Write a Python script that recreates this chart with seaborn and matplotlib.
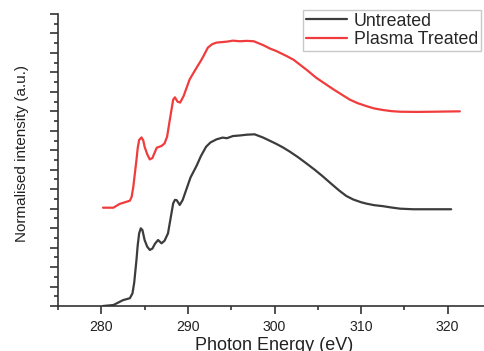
import numpy as np
import pandas as pd
import matplotlib
matplotlib.use("Agg")
import matplotlib.pyplot as plt
import seaborn as sns
from matplotlib.ticker import MultipleLocator, NullFormatter

# Data (photon energy eV, normalised intensity a.u.)
untreated_x = [280.2, 281.4, 282.5, 283.3, 283.6, 283.8, 284.06, 284.2, 284.37, 284.56,
               284.75, 285.0, 285.3, 285.6, 285.9, 286.2, 286.56, 286.95, 287.3, 287.7,
               288.0, 288.3, 288.5, 288.7, 289.06, 289.4, 289.8, 290.3, 291.0, 291.5,
               292.1, 292.6, 293.3, 294.0, 294.5, 295.2, 296.0, 296.8, 297.7, 298.7,
               299.5, 300.2, 301.0, 301.8, 302.7, 303.7, 304.7, 305.6, 306.5, 307.5,
               308.3, 309.1, 310.0, 310.6, 311.5, 312.5, 313.5, 314.5, 316.0, 318.3,
               320.4]
untreated_y = [0.0, 0.05, 0.3, 0.4, 0.65, 1.2, 2.36, 3.1, 3.73, 3.99,
               3.9, 3.39, 3.05, 2.88, 2.95, 3.2, 3.39, 3.22, 3.35, 3.73,
               4.5, 5.27, 5.45, 5.44, 5.19, 5.45, 5.96, 6.6, 7.2, 7.7,
               8.18, 8.4, 8.56, 8.65, 8.62, 8.73, 8.76, 8.8, 8.82, 8.65,
               8.48, 8.33, 8.14, 7.92, 7.65, 7.32, 6.98, 6.65, 6.3, 5.92,
               5.65, 5.47, 5.33, 5.26, 5.18, 5.13, 5.06, 5.0, 4.97, 4.97,
               4.97]

plasma_x = [280.2, 281.4, 282.1, 283.3, 283.5, 283.7, 283.9, 284.06, 284.2, 284.37,
            284.64, 284.85, 285.0, 285.3, 285.6, 285.9, 286.4, 286.95, 287.3, 287.6,
            287.85, 288.1, 288.3, 288.5, 288.8, 289.1, 289.5, 290.2, 291.0, 291.5,
            291.8, 292.3, 292.8, 293.3, 294.0, 294.5, 295.2, 296.0, 296.8, 297.6,
            298.7, 299.5, 300.2, 301.4, 302.2, 302.9, 303.8, 304.8, 305.8, 306.8,
            307.8, 308.7, 309.6, 310.6, 311.5, 312.5, 313.5, 314.5, 316.4, 318.3,
            321.4]
plasma_y = [5.05, 5.05, 5.24, 5.41, 5.6, 6.13, 6.9, 7.5, 8.1, 8.53,
            8.66, 8.5, 8.18, 7.8, 7.53, 7.6, 8.13, 8.22, 8.35, 8.7,
            9.4, 10.07, 10.6, 10.72, 10.5, 10.45, 10.78, 11.64, 12.24, 12.6,
            12.84, 13.27, 13.45, 13.53, 13.56, 13.58, 13.63, 13.6, 13.62, 13.6,
            13.4, 13.22, 13.1, 12.84, 12.65, 12.41, 12.1, 11.73, 11.43, 11.13,
            10.85, 10.6, 10.42, 10.27, 10.15, 10.07, 10.01, 9.98, 9.97, 9.98,
            10.0]

series_names = ["Untreated", "Plasma Treated"]
x_ticks = [280, 290, 300, 310, 320]

df = pd.concat([
    pd.DataFrame({"Energy": untreated_x, "Intensity": untreated_y, "Sample": series_names[0]}),
    pd.DataFrame({"Energy": plasma_x, "Intensity": plasma_y, "Sample": series_names[1]}),
], ignore_index=True)

sns.set_style("ticks")
plt.rcParams["font.family"] = ["Liberation Sans", "DejaVu Sans"]

fig = plt.figure(figsize=(4.84, 3.51), dpi=100)
ax = fig.add_axes([58 / 484, 1 - 306 / 351, 433 / 484, 292 / 351])

sns.lineplot(data=df, x="Energy", y="Intensity", hue="Sample", sort=False,
             palette={"Untreated": "#3c3c3c", "Plasma Treated": "#f03c3c"},
             linewidth=1.6, ax=ax, estimator=None)

ax.set_xlim(275, 325)
ax.set_ylim(0, 15)
ax.set_xticks(x_ticks)
ax.xaxis.set_minor_locator(MultipleLocator(5))
ax.yaxis.set_major_locator(MultipleLocator(1))
ax.yaxis.set_minor_locator(MultipleLocator(0.5))
ax.yaxis.set_major_formatter(NullFormatter())

for side in ["top", "right"]:
    ax.spines[side].set_visible(False)
for side in ["left", "bottom"]:
    ax.spines[side].set_linewidth(1.2)
    ax.spines[side].set_color("#333333")

ax.tick_params(axis="both", which="major", length=6, width=1.2, color="#333333",
               labelsize=10.2, labelcolor="#222222", direction="out", pad=4)
ax.tick_params(axis="both", which="minor", length=3, width=1.2, color="#333333",
               direction="out")

ax.set_xlabel("Photon Energy (eV)", fontsize=13, color="#222222")
ax.xaxis.set_label_coords(0.5, -(345 - 306) / 292, transform=ax.transAxes)
ax.xaxis.label.set_va("center")
ax.set_ylabel("Normalised intensity (a.u.)", fontsize=11, color="#222222")
ax.yaxis.set_label_coords(-(58 - 22) / 433, (306 - 153) / 292, transform=ax.transAxes)
ax.yaxis.label.set_va("center")

leg = ax.legend(loc="upper left", bbox_to_anchor=(303 / 484, 1 - 10 / 351),
                bbox_transform=fig.transFigure, frameon=True, fancybox=False,
                edgecolor="#bbbbbb", fontsize=12.8, handlelength=2.3,
                borderpad=0.15, labelspacing=0.08, handletextpad=0.4,
                borderaxespad=0.0, title=None)
leg.get_frame().set_linewidth(1.0)

fig.savefig("out.png", dpi=100)
